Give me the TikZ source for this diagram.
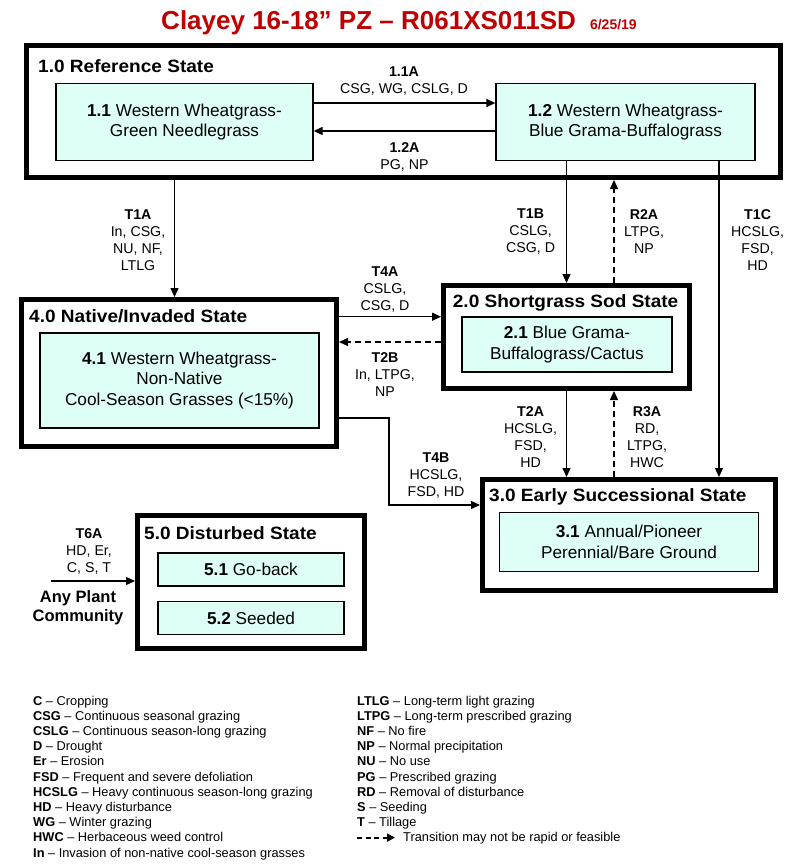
\documentclass[tikz,border=0pt]{standalone}
\usepackage{fontspec}
\setmainfont{Liberation Sans}
\newfontfamily\widefont[FakeStretch=1.07]{Liberation Sans}
\usetikzlibrary{arrows.meta}
\definecolor{titlered}{RGB}{192,0,0}
\definecolor{commfill}{RGB}{222,255,246}
\tikzset{
  statebox/.style={draw=black, line width=5pt, fill=white, inner sep=0pt},
  commbox/.style={draw=black, line width=1.3pt, fill=commfill, inner sep=0pt, align=center,
    font=\fontsize{17.2}{20.5}\selectfont},
  statelbl/.style={anchor=base west, inner sep=0pt, font=\widefont\bfseries\fontsize{17.8}{20}\selectfont},
  lbl/.style={align=center, inner sep=0pt, font=\fontsize{14.2}{17}\selectfont},
  arr/.style={line width=1.3pt, -{Triangle[length=9pt,width=8pt]}},
  darr/.style={arr, dash pattern=on 6pt off 4pt},
  legend/.style={anchor=base west, inner sep=0pt, font=\fontsize{12.8}{15}\selectfont},
}
\begin{document}
\begin{tikzpicture}[x=1pt,y=-1pt]
\useasboundingbox (0,0) rectangle (800,867);
% title
\node[font=\bfseries\fontsize{26}{30}\selectfont, text=titlered, inner sep=0pt, anchor=base] (title) at (399,29.3)
  {Clayey 16-18” PZ – R061XS011SD\hspace{14pt}{\fontsize{14}{16}\selectfont 6/25/19}};
% states
\node[statebox, minimum width=754, minimum height=132] (s10) at (403.5,111.5) {};
\node[statelbl] (s10l) at (38,72.7) {1.0 Reference State};
\node[commbox, minimum width=257, minimum height=77] (s11) at (184.5,122) {\textbf{1.1} Western Wheatgrass-\\Green Needlegrass};
\node[commbox, minimum width=259, minimum height=77] (s12) at (625.5,122) {\textbf{1.2} Western Wheatgrass-\\Blue Grama-Buffalograss};
\node[statebox, minimum width=315, minimum height=147] (s40) at (179,373) {};
\node[statelbl] (s40l) at (29,322) {4.0 Native/Invaded State};
\node[commbox, minimum width=279, minimum height=95] (s41) at (179.5,380.5) {\textbf{4.1} Western Wheatgrass-\\Non-Native\\Cool-Season Grasses (<15\%)};
\node[statebox, minimum width=246, minimum height=103] (s20) at (566.5,337) {};
\node[statelbl] (s20l) at (452.7,307.7) {2.0 Shortgrass Sod State};
\node[commbox, minimum width=210, minimum height=55] (s21) at (567,344.5) {\textbf{2.1} Blue Grama-\\Buffalograss/Cactus};
\node[statebox, minimum width=293, minimum height=111] (s30) at (629,535) {};
\node[statelbl] (s30l) at (489,501.7) {3.0 Early Successional State};
\node[commbox, minimum width=259, minimum height=59] (s31) at (629,542) {\textbf{3.1} Annual/Pioneer\\Perennial/Bare Ground};
\node[statebox, minimum width=227, minimum height=133] (s50) at (251,582) {};
\node[statelbl] (s50l) at (144,539.3) {5.0 Disturbed State};
\node[commbox, minimum width=186, minimum height=33] (s51) at (251,569.5) {\textbf{5.1} Go-back};
\node[commbox, minimum width=186, minimum height=33] (s52) at (251,618) {\textbf{5.2} Seeded};
% transitions
\draw[arr] ([yshift=19pt]s11.east) -- ([yshift=19pt]s12.west);
\draw[arr] ([yshift=-9pt]s12.west) -- ([yshift=-9pt]s11.east);
\draw[arr] ([xshift=-4.5pt]s40.north |- s10.south) -- ([xshift=-4.5pt]s40.north);
\draw[arr] (s20.north |- s12.south) -- (s20.north);
\draw[darr] ([xshift=47.5pt]s20.north) -- ([xshift=47.5pt]s20.north |- s10.south);
\draw[arr] ([xshift=93.5pt]s12.south) -- ([xshift=93.5pt]s12.south |- s30.north);
\coordinate (t4a) at ([yshift=20.3pt]s20.west);
\draw[arr] (s40.east |- t4a) -- (t4a);
\coordinate (t2b) at ([yshift=-5pt]s20.west);
\draw[darr] (t2b) -- (s40.east |- t2b);
\draw[arr] (s20.south) -- (s20.south |- s30.north);
\draw[darr] ([xshift=47.5pt]s20.south |- s30.north) -- ([xshift=47.5pt]s20.south);
\coordinate (t4b) at ([yshift=30pt]s30.west);
\draw[arr] ([yshift=-45pt]s40.east) -| ([xshift=-91pt]t4b) -- (t4b);
\coordinate (t6a) at (51,581);
\draw[arr] (t6a) -- (t6a -| s50.west);
% labels
\node[lbl] (l11a) at (404,80.8) {\textbf{1.1A}\\CSG, WG, CSLG, D};
\node[lbl] (l12a) at (404.5,156.8) {\textbf{1.2A}\\PG, NP};
\node[lbl] (lt1a) at (138,240.3) {\textbf{T1A}\\In, CSG,\\NU, NF,\\LTLG};
\node[lbl] (lt1b) at (530.6,231.8) {\textbf{T1B}\\CSLG,\\CSG, D};
\node[lbl] (lr2a) at (644,231.8) {\textbf{R2A}\\LTPG,\\NP};
\node[lbl] (lt1c) at (757.6,240.3) {\textbf{T1C}\\HCSLG,\\FSD,\\HD};
\node[lbl] (lt4a) at (385,289.2) {\textbf{T4A}\\CSLG,\\CSG, D};
\node[lbl] (lt2b) at (385,374.7) {\textbf{T2B}\\In, LTPG,\\NP};
\node[lbl] (lt2a) at (530.6,436.8) {\textbf{T2A}\\HCSLG,\\FSD,\\HD};
\node[lbl] (lr3a) at (647,436.8) {\textbf{R3A}\\RD,\\LTPG,\\HWC};
\node[lbl] (lt4b) at (436,475.5) {\textbf{T4B}\\HCSLG,\\FSD, HD};
\node[lbl] (lt6a) at (89,551) {\textbf{T6A}\\HD, Er,\\C, S, T};
\node[lbl, font=\bfseries\fontsize{16.5}{19}\selectfont] (lany) at (78,608) {Any Plant\\Community};
% legend
\node[legend] (g1) at (33,705) {\textbf{C} – Cropping};
\node[legend] (g2) at (33,720.2) {\textbf{CSG} – Continuous seasonal grazing};
\node[legend] (g3) at (33,735.4) {\textbf{CSLG} – Continuous season-long grazing};
\node[legend] (g4) at (33,750.6) {\textbf{D} – Drought};
\node[legend] (g5) at (33,765.8) {\textbf{Er} – Erosion};
\node[legend] (g6) at (33,781) {\textbf{FSD} – Frequent and severe defoliation};
\node[legend] (g7) at (33,796.2) {\textbf{HCSLG} – Heavy continuous season-long grazing};
\node[legend] (g8) at (33,811.4) {\textbf{HD} – Heavy disturbance};
\node[legend] (g9) at (33,826.6) {\textbf{WG} – Winter grazing};
\node[legend] (g10) at (33,841.8) {\textbf{HWC} – Herbaceous weed control};
\node[legend] (g11) at (33,857) {\textbf{In} – Invasion of non-native cool-season grasses};
\node[legend] (h1) at (357,705) {\textbf{LTLG} – Long-term light grazing};
\node[legend] (h2) at (357,720.2) {\textbf{LTPG} – Long-term prescribed grazing};
\node[legend] (h3) at (357,735.4) {\textbf{NF} – No fire};
\node[legend] (h4) at (357,750.6) {\textbf{NP} – Normal precipitation};
\node[legend] (h5) at (357,765.8) {\textbf{NU} – No use};
\node[legend] (h6) at (357,781) {\textbf{PG} – Prescribed grazing};
\node[legend] (h7) at (357,796.2) {\textbf{RD} – Removal of disturbance};
\node[legend] (h8) at (357,811.4) {\textbf{S} – Seeding};
\node[legend] (h9) at (357,826.6) {\textbf{T} – Tillage};
\coordinate (k1) at (357,837.6);
\node[legend] (h10) at (403,841.8) {Transition may not be rapid or feasible};
\draw[line width=1.8pt, dash pattern=on 5pt off 3.5pt, -{Triangle[length=8pt,width=8pt]}] (k1) -- (k1 -| 395,0);
\end{tikzpicture}
\end{document}
